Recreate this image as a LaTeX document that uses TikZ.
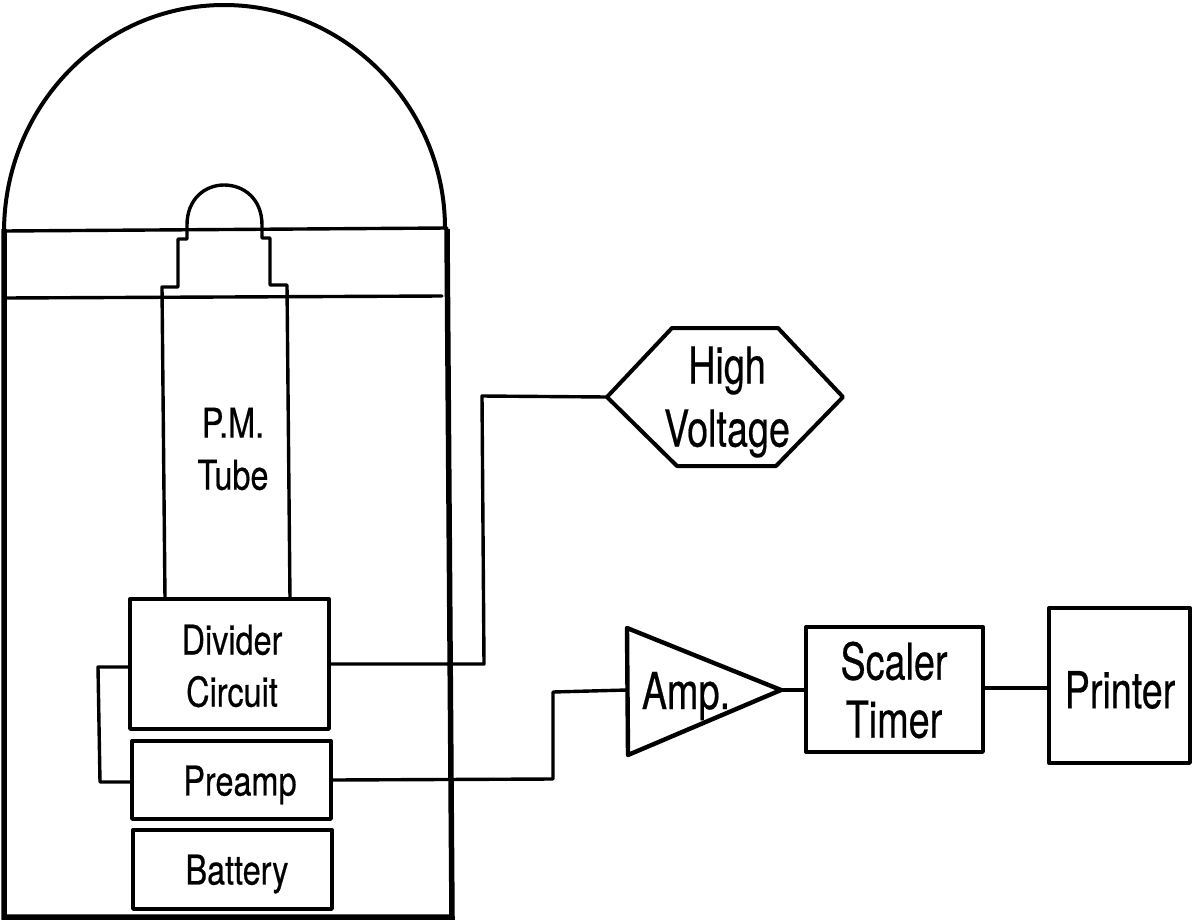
\documentclass[tikz,border=0pt]{standalone}
\usepackage{fontspec}
\setmainfont{TeX Gyre Heros}
\newfontfamily\smallf[FakeStretch=0.79,FakeBold=0.5]{TeX Gyre Heros}
\newfontfamily\bigf[FakeStretch=0.74,FakeBold=0.4]{TeX Gyre Heros}
\tikzset{
  x=1pt,y=-1pt,
  ln/.style={line width=3.4pt,black,line join=round,line cap=round},
  hv/.style={line width=4pt,black,line join=round,line cap=round},
  wall/.style={line width=5.5pt,black,line join=miter},
  block/.style={draw,ln,rectangle,inner sep=0pt},
  lbl/.style={align=center,inner sep=0pt},
  smalltxt/.style={lbl,font=\smallf\fontsize{41}{52}\selectfont},
  bigtxt/.style={lbl,font=\bigf\fontsize{51}{60}\selectfont}
}
\begin{document}
\begin{tikzpicture}
\useasboundingbox (0,0) rectangle (1192,924);
% dome and vessel
\draw[hv] (4,232) .. controls (4,107) and (102,5) .. (224,5) .. controls (346,5) and (445,107) .. (445,228);
\draw[wall] (4,229) -- (4,917) -- (452,917) -- (447,229);
\draw[ln] (4,231) -- (447,228);
\draw[ln] (4,298) -- (442,296);
% PM tube
\draw[ln] (165,599) -- (162,287) -- (178,287) -- (178,239) -- (187,239) -- (187,225)
  .. controls (187,199) and (205,185) .. (224,185) .. controls (244,185) and (262,199) .. (262,225)
  -- (262,238) -- (270,238) -- (270,285) -- (287,285) -- (290,599);
\node[smalltxt] (pm) at (233,449) {P.M.\\Tube};
% blocks
\node[block,minimum width=199pt,minimum height=130pt] (div) at (229.5,664) {};
\node[block,minimum width=199pt,minimum height=78pt] (pre) at (231.5,780) {};
\node[block,minimum width=199pt,minimum height=79pt] (bat) at (232.5,869.5) {};
\node[smalltxt] (divT) at (232,666) {Divider\\Circuit};
\node[smalltxt] (preT) at (240,785) {Preamp};
\node[smalltxt] (batT) at (237,874) {Battery};
% high voltage
\coordinate (hvW) at (607,397);
\draw[hv] (607,397) -- (672,328) -- (778,328) -- (843,397) -- (776,466) -- (677,466) -- cycle;
\node[bigtxt,font=\bigf\fontsize{51}{63}\selectfont] (hv) at (727,402) {High\\Voltage};
% amp
\coordinate (ampA) at (627,690);
\coordinate (ampT) at (781,690);
\draw[line width=4.4pt,line join=round] (627,628) -- (781,690) -- (628,755) -- cycle;
\node[bigtxt] (amp) at (686,696) {Amp.};
% scaler, printer
\node[block,minimum width=177pt,minimum height=125pt] (sca) at (894.5,689.5) {};
\node[block,minimum width=141pt,minimum height=155pt] (pri) at (1119.5,685.5) {};
\node[bigtxt,font=\bigf\fontsize{51}{58}\selectfont] (scaT) at (894,690) {Scaler\\Timer};
\node[bigtxt] (priT) at (1120,690) {Printer};
% connectors
\draw[ln] (div.east |- 0,664) -- (484,664) -- (482,396) -- (hvW);
\draw[ln] (pre.east |- 0,780) -- (553,779) -- (553,692) -- (ampA);
\draw[line width=4pt] (ampT) -- (sca.west |- ampT);
\draw[line width=4.8pt] (sca.east |- 0,688) -- (pri.west |- 0,688);
\draw[ln] (div.west |- 0,667) -- (98,667) -- (100,782) -- (pre.west |- 0,782);
\end{tikzpicture}
\end{document}
